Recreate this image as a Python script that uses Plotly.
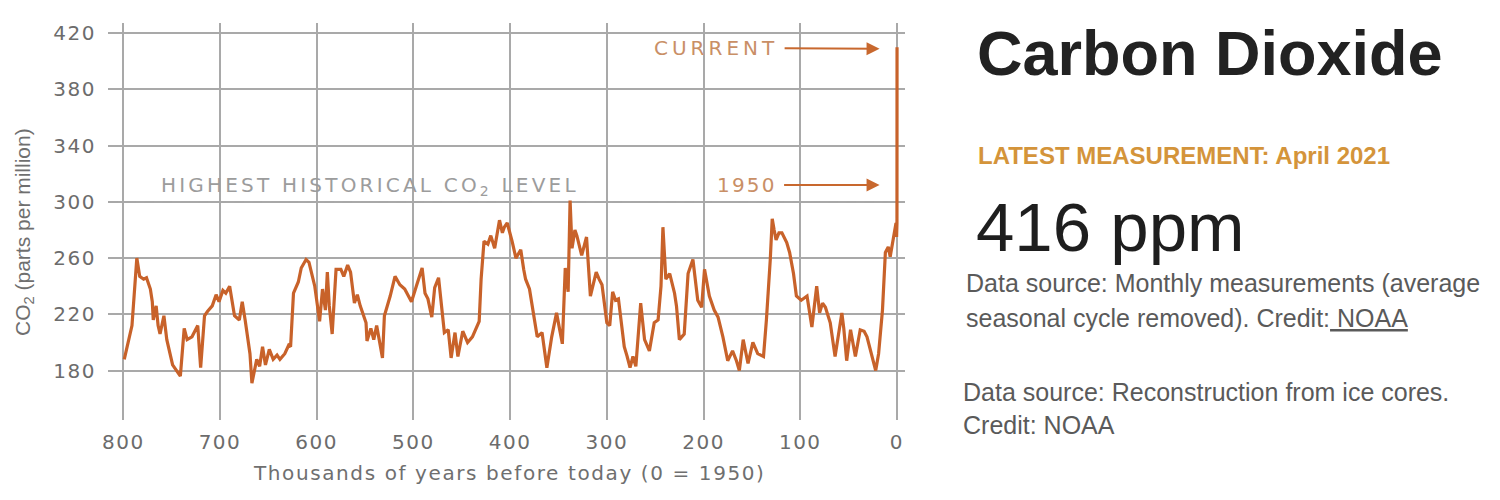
import plotly.graph_objects as go

# ---- data ----
kyr_before_1950 = [
    799, 791, 786, 783, 779, 776, 772, 770, 769, 766, 764, 762, 758, 755, 749, 744,
    741, 737, 734, 729, 723, 720, 716, 713, 708, 704, 701, 697, 694, 690, 685, 680,
    677, 674, 669, 667, 662, 659, 656, 653, 649, 645, 641, 638, 633, 629, 627, 624,
    619, 616, 611, 608, 602, 597, 594, 591, 589, 587, 584, 580, 575, 572, 568, 565,
    561, 558, 555, 549, 548, 544, 541, 538, 532, 530, 524, 519, 514, 509, 502, 497,
    491, 488, 485, 481, 478, 474, 471, 468, 464, 461, 457, 454, 449, 444, 439, 432,
    430,
    427, 423, 420, 416, 413, 411, 408, 406, 403, 400, 398, 394, 389, 386, 384, 380,
    377, 374, 372, 367, 362, 357, 352, 349, 346, 343, 340, 338, 336, 333, 331, 326,
    321, 317, 314, 311, 308, 305, 300, 297, 294, 291, 288, 285, 282, 279, 276, 273,
    270, 265, 261, 256, 251, 247, 244, 242, 239, 235, 230, 228, 225, 220, 216, 211,
    206, 202, 199, 194, 189, 185, 180, 175, 170, 166, 163, 159, 154, 149, 144, 138,
    135, 131, 129, 127, 125, 122, 119, 114, 111, 107, 104, 99, 93, 88, 83, 80,
    77, 74, 69, 64, 61, 57, 55, 52, 48, 43, 38, 34, 31, 26, 22, 19,
    15, 12, 9, 7, 4, 2, 1, 0.4, 0, -0.071,
]
co2_ppm = [
    188, 212, 260, 247, 245, 246, 238, 229, 216, 226, 212, 206, 219, 202, 184, 179,
    176, 210, 202, 204, 212, 182, 219, 222, 226, 234, 229, 237, 235, 240, 219, 216,
    229, 216, 192, 171, 188, 183, 197, 184, 195, 188, 191, 188, 192, 198, 197, 235,
    243, 253, 259, 257, 240, 215, 238, 223, 250, 226, 206, 252, 252, 247, 255, 250,
    228, 234, 226, 214, 201, 210, 202, 212, 189, 219, 233, 247, 241, 238, 229, 240,
    253, 235, 231, 218, 239, 246, 226, 207, 209, 189, 207, 190, 208, 200, 204, 215,
    245,
    272, 270, 276, 267, 280, 287, 278, 282, 285, 278, 272, 260, 266, 252, 245, 238,
    226, 215, 204, 207, 182, 204, 221, 210, 199, 253, 236, 301, 267, 280, 276, 262,
    275, 233, 242, 250, 245, 241, 214, 212, 236, 230, 231, 215, 197, 190, 182, 190,
    183, 228, 202, 194, 214, 216, 240, 282, 245, 249, 235, 226, 202, 206, 249, 259,
    230, 225, 252, 233, 223, 218, 204, 187, 194, 187, 180, 202, 185, 200, 192, 190,
    216, 259, 288, 280, 273, 278, 278, 271, 264, 249, 233, 230, 233, 211, 240, 221,
    228, 225, 214, 190, 204, 221, 210, 187, 209, 190, 209, 208, 204, 190, 180, 192,
    223, 264, 268, 261, 272, 280, 285, 275, 285, 410,
]
assert len(kyr_before_1950) == len(co2_ppm)

x_tick_values = [800, 700, 600, 500, 400, 300, 200, 100, 0]
y_tick_values = [180, 220, 260, 300, 340, 380, 420]
highest_historical_level = 300
latest_value_text = "416 ppm"
latest_label = "LATEST MEASUREMENT: April 2021"

# ---- style ----
LINE = "#c8622a"
ARROW = "#c8682e"
ANNOT_TXT = "#c98f66"
GRID = "#a9a9a9"
TICK = "#6c6c6c"
FONT = "Liberation Sans, Arial, sans-serif"
WIDE = "DejaVu Sans, Verdana, sans-serif"


def spaced(txt, s):
    return f'<span style="letter-spacing:{s}px">{txt}</span>'


fig = go.Figure()
fig.add_trace(go.Scatter(
    x=kyr_before_1950, y=co2_ppm, mode="lines",
    line=dict(color=LINE, width=3.2), hoverinfo="x+y", showlegend=False,
))

# dashed line at highest historical level
fig.add_shape(type="line", xref="x", yref="y",
              x0=815, x1=10, y0=highest_historical_level, y1=highest_historical_level,
              line=dict(color="#a8a8a8", width=1.6, dash="dash"), layer="above")

annots = []
annots.append(dict(
    x=763, y=311, xref="x", yref="y", xanchor="left", yanchor="middle",
    text=spaced("HIGHEST HISTORICAL CO<sub>2</sub> LEVEL", 3.2),
    showarrow=False, font=dict(family=WIDE, size=20, color="#9c9c9c"),
))
# CURRENT label with arrow pointing to the latest value
annots.append(dict(
    x=18, y=409, ax=187, ay=409.5, xref="x", yref="y", axref="x", ayref="y",
    text=spaced("CURRENT", 4), showarrow=True, arrowhead=2, arrowsize=1.3,
    arrowwidth=2, arrowcolor=ARROW, standoff=0, startstandoff=5,
    font=dict(family=WIDE, size=20, color=ANNOT_TXT),
))
# 1950 label with arrow
annots.append(dict(
    x=18, y=312, ax=155.5, ay=312, xref="x", yref="y", axref="x", ayref="y",
    text=spaced("1950", 2.2), showarrow=True, arrowhead=2, arrowsize=1.3,
    arrowwidth=2, arrowcolor=ARROW, standoff=0, startstandoff=6,
    font=dict(family=WIDE, size=20, color=ANNOT_TXT),
))


# helper: page pixel -> paper coordinate (plot area is 108..905 x 23..420 on the page)
def px(x):
    return (x - 108) / 797


def py(y):
    return (420 - y) / 397


# axis titles
annots.append(dict(
    x=px(510), y=py(473), xref="paper", yref="paper",
    xanchor="center", yanchor="middle", showarrow=False,
    text=spaced("Thousands of years before today (0 = 1950)", 1.6),
    font=dict(family=WIDE, size=20, color="#6f6f6f"),
))
annots.append(dict(
    x=px(24), y=py(232), xref="paper", yref="paper",
    xanchor="center", yanchor="middle", showarrow=False, textangle=-90,
    text="CO<sub>2</sub> (parts per million)",
    font=dict(family=FONT, size=21, color="#6f6f6f"),
))

# right-side panel text
annots.append(dict(x=px(975), y=py(53), xref="paper", yref="paper", xanchor="left",
                   yanchor="middle", showarrow=False, text="<b>Carbon Dioxide</b>",
                   font=dict(family=FONT, size=63, color="#222222")))
annots.append(dict(x=px(976), y=py(155), xref="paper", yref="paper", xanchor="left",
                   yanchor="middle", showarrow=False, text=f"<b>{latest_label}</b>",
                   font=dict(family=FONT, size=24, color="#d4943a")))
annots.append(dict(x=px(974), y=py(228), xref="paper", yref="paper", xanchor="left",
                   yanchor="middle", showarrow=False, text=latest_value_text,
                   font=dict(family=FONT, size=69, color="#1e1e1e")))
annots.append(dict(x=px(964), y=py(283), xref="paper", yref="paper", xanchor="left",
                   yanchor="middle", showarrow=False,
                   text="Data source: Monthly measurements (average",
                   font=dict(family=FONT, size=25, color="#5a5a5a")))
annots.append(dict(x=px(964), y=py(318), xref="paper", yref="paper", xanchor="left",
                   yanchor="middle", showarrow=False,
                   text="seasonal cycle removed). Credit:<u> NOAA</u>",
                   font=dict(family=FONT, size=25, color="#5a5a5a")))
annots.append(dict(x=px(961), y=py(392), xref="paper", yref="paper", xanchor="left",
                   yanchor="middle", showarrow=False,
                   text="Data source: Reconstruction from ice cores.",
                   font=dict(family=FONT, size=25, color="#5a5a5a")))
annots.append(dict(x=px(961), y=py(425), xref="paper", yref="paper", xanchor="left",
                   yanchor="middle", showarrow=False,
                   text="Credit: NOAA",
                   font=dict(family=FONT, size=25, color="#5a5a5a")))

# page has an 8px body margin, so the figure is sized to fit inside it
fig.update_layout(
    width=1484, height=484,
    margin=dict(l=100, r=587, t=15, b=72),
    paper_bgcolor="white", plot_bgcolor="white",
    showlegend=False,
    annotations=annots,
    xaxis=dict(
        range=[815.8, -8.3], tickvals=x_tick_values,
        ticktext=[spaced(str(v), 1.5) for v in x_tick_values],
        showgrid=True, gridcolor=GRID, gridwidth=1.6,
        zeroline=False, showline=False, ticks="",
        ticklabelstandoff=8,
        tickfont=dict(family=WIDE, size=20, color=TICK),
    ),
    yaxis=dict(
        range=[144.8, 427.3], tickvals=y_tick_values,
        ticktext=[spaced(str(v), 1.5) for v in y_tick_values],
        showgrid=True, gridcolor=GRID, gridwidth=1.6,
        zeroline=False, showline=False, ticks="",
        ticklabelstandoff=11,
        tickfont=dict(family=WIDE, size=20, color=TICK),
    ),
)

fig.write_html("out.html")
